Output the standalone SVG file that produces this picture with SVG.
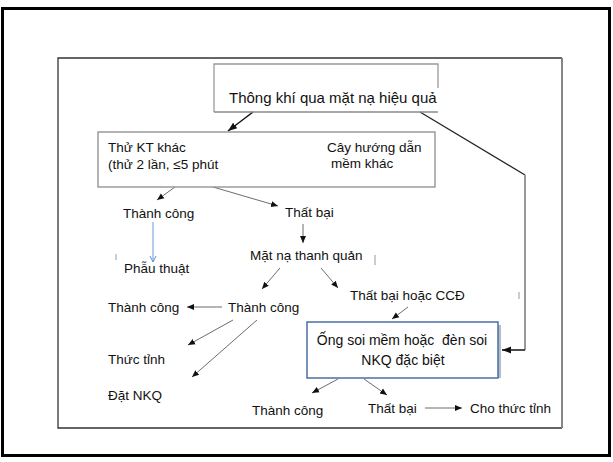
<svg xmlns="http://www.w3.org/2000/svg" width="613" height="462" viewBox="0 0 613 462">
  <style>
    text { font-family: "Liberation Sans", Arial, sans-serif; font-size: 13.5px; fill: #111; }
    .big { font-size: 15px; }
    .mid { font-size: 14px; }
    .thin { fill: none; stroke: #6d6d6d; stroke-width: 1; }
    .main { fill: none; stroke: #111; stroke-width: 1.5; }
    .box { fill: #fff; stroke: #8c8c8c; stroke-width: 1.3; }
    .tick { fill: none; stroke: #9a9a9a; stroke-width: 1; }
  </style>
  <defs>
    <marker id="ah" markerUnits="userSpaceOnUse" markerWidth="8" markerHeight="8" viewBox="0 0 8 8" refX="7" refY="4" orient="auto">
      <path d="M0,1 L7,4 L0,7 Z" fill="#111"/>
    </marker>
    <marker id="ahBig" markerUnits="userSpaceOnUse" markerWidth="10" markerHeight="10" viewBox="0 0 10 10" refX="9" refY="5" orient="auto">
      <path d="M0,1.5 L9,5 L0,8.5 Z" fill="#111"/>
    </marker>
    <marker id="ahOpen" markerUnits="userSpaceOnUse" markerWidth="8" markerHeight="8" viewBox="0 0 8 8" refX="7" refY="4" orient="auto">
      <path d="M1,1 L7,4 L1,7" fill="none" stroke="#5b8fd6" stroke-width="1"/>
    </marker>
  </defs>

  <!-- page and frame -->
  <rect x="2.5" y="8.5" width="607" height="447" fill="#fff" stroke="#000" stroke-width="3"/>
  <path d="M562,58 L58,58 L58,428 L562,428" fill="none" stroke="#333" stroke-width="1.3"/>
  <line x1="562" y1="58" x2="562" y2="428" stroke="#7a7a7a" stroke-width="1.8"/>

  <!-- connectors -->
  <g id="connectors">
    <line class="main" x1="253" y1="112" x2="228" y2="131" marker-end="url(#ahBig)"/>
    <line x1="420" y1="112" x2="525" y2="175" stroke="#222" stroke-width="1.3"/>
    <line x1="525" y1="175" x2="525" y2="350" stroke="#999" stroke-width="2"/>
    <line class="main" x1="525" y1="350" x2="502" y2="350" marker-end="url(#ahBig)"/>
    <line class="thin" x1="175" y1="187" x2="157" y2="200" marker-end="url(#ah)"/>
    <line class="thin" x1="213" y1="187" x2="278" y2="206" stroke="#444" marker-end="url(#ah)"/>
    <line x1="153" y1="222" x2="153" y2="262" stroke="#6a9bd8" stroke-width="1" marker-end="url(#ahOpen)"/>
    <line class="thin" x1="303" y1="224" x2="303" y2="243" marker-end="url(#ah)"/>
    <line class="thin" x1="280" y1="268" x2="262" y2="289" marker-end="url(#ah)"/>
    <line class="thin" x1="321" y1="268" x2="338" y2="288" marker-end="url(#ah)"/>
    <line class="thin" x1="408" y1="307" x2="392" y2="319" marker-end="url(#ah)"/>
    <line class="thin" x1="222" y1="307" x2="187" y2="307" stroke="#222" marker-end="url(#ah)"/>
    <line class="thin" x1="233" y1="320" x2="188" y2="345" marker-end="url(#ah)"/>
    <line class="thin" x1="257" y1="320" x2="192" y2="377" marker-end="url(#ah)"/>
    <line class="thin" x1="338" y1="379" x2="312" y2="393" marker-end="url(#ah)"/>
    <line class="thin" x1="364" y1="379" x2="387" y2="395" marker-end="url(#ah)"/>
    <line class="thin" x1="425" y1="408" x2="462" y2="408" stroke="#222" marker-end="url(#ah)"/>
    <!-- stray marks -->
    <line class="tick" x1="519" y1="292" x2="519" y2="299"/>
    <line class="tick" x1="116" y1="254" x2="116" y2="260"/>
    <line class="tick" x1="375" y1="255" x2="375" y2="265"/>
  </g>

  <!-- nodes -->
  <g id="n-thong-khi">
    <path d="M214,112 L214,64 L438,64 L438,88" fill="#fff" stroke="#9a9a9a" stroke-width="1.3"/>
    <line x1="214" y1="112" x2="438" y2="112" stroke="#8a8a8a" stroke-width="1.5"/>
    <text class="big" x="229" y="103">Thông khí qua mặt nạ hiệu quả</text>
  </g>

  <g id="n-thu-kt">
    <rect class="box" x="98" y="132" width="337" height="55"/>
    <text x="108" y="152">Thử KT khác</text>
    <text x="108" y="169">(thử 2 lần, ≤5 phút</text>
    <text x="327" y="152">Cây hướng dẫn</text>
    <text x="331" y="168">mềm khác</text>
  </g>

  <g id="n-thanh-cong-1"><text x="123" y="218">Thành công</text></g>
  <g id="n-that-bai-1"><text x="285" y="217">Thất bại</text></g>
  <g id="n-phau-thuat"><text x="124" y="273">Phẫu thuật</text></g>

  <g id="n-mat-na">
    <rect x="247" y="246" width="126" height="20" fill="#fff"/>
    <text x="250" y="260">Mặt nạ thanh quản</text>
  </g>

  <g id="n-thanh-cong-2">
    <rect x="226" y="297" width="76" height="19" fill="#fff"/>
    <text x="228" y="312">Thành công</text>
  </g>
  <g id="n-that-bai-ccd"><text x="350" y="300">Thất bại hoặc CCĐ</text></g>
  <g id="n-thanh-cong-3"><text x="108" y="312">Thành công</text></g>
  <g id="n-thuc-tinh"><text x="108" y="364">Thức tỉnh</text></g>
  <g id="n-dat-nkq"><text x="108" y="400">Đặt NKQ</text></g>

  <g id="n-ong-soi">
    <rect x="498" y="325" width="3" height="53" fill="#b4bccb"/>
    <rect x="307" y="322" width="191" height="56" fill="#fff" stroke="#4a6fa5" stroke-width="1.5"/>
    <text class="mid" x="402" y="345" text-anchor="middle" xml:space="preserve">Ống soi mềm hoặc  đèn soi</text>
    <text class="mid" x="403" y="365" text-anchor="middle">NKQ đặc biệt</text>
  </g>

  <g id="n-thanh-cong-4"><text x="252" y="415">Thành công</text></g>
  <g id="n-that-bai-2"><text x="368" y="413">Thất bại</text></g>
  <g id="n-cho-thuc-tinh"><text x="470" y="413">Cho thức tỉnh</text></g>
</svg>
